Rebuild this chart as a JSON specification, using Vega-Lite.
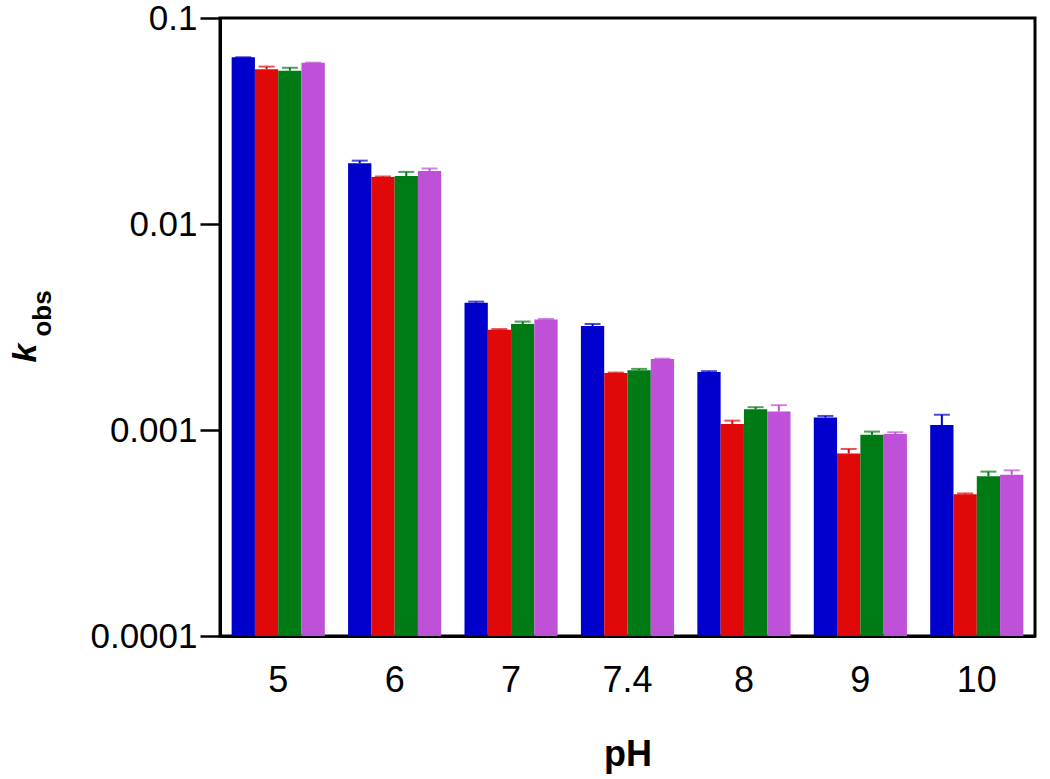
{
  "$schema": "https://vega.github.io/schema/vega-lite/v6.json",
  "width": 815,
  "height": 618,
  "autosize": "none",
  "padding": {"left": 220, "top": 18, "right": 15, "bottom": 143},
  "background": "white",
  "config": {
    "view": {"stroke": "black", "strokeWidth": 3},
    "font": "Liberation Sans"
  },
  "title": {
    "text": "k",
    "orient": "left",
    "anchor": "middle",
    "fontSize": 34,
    "fontWeight": "bold",
    "fontStyle": "italic",
    "color": "black",
    "offset": -14,
    "dx": -26
  },
  "data": {
    "values": [
      {"pH": "5", "s": "A", "k": 0.0644, "hi": 0.0644},
      {"pH": "5", "s": "B", "k": 0.0564, "hi": 0.0581},
      {"pH": "5", "s": "C", "k": 0.0555, "hi": 0.0574},
      {"pH": "5", "s": "D", "k": 0.0607, "hi": 0.0607},
      {"pH": "6", "s": "A", "k": 0.0197, "hi": 0.0203},
      {"pH": "6", "s": "B", "k": 0.0169, "hi": 0.0170},
      {"pH": "6", "s": "C", "k": 0.0171, "hi": 0.0179},
      {"pH": "6", "s": "D", "k": 0.0181, "hi": 0.0186},
      {"pH": "7", "s": "A", "k": 0.00415, "hi": 0.0042},
      {"pH": "7", "s": "B", "k": 0.00307, "hi": 0.00309},
      {"pH": "7", "s": "C", "k": 0.00327, "hi": 0.00336},
      {"pH": "7", "s": "D", "k": 0.00344, "hi": 0.00346},
      {"pH": "7.4", "s": "A", "k": 0.0032, "hi": 0.00327},
      {"pH": "7.4", "s": "B", "k": 0.00189, "hi": 0.0019},
      {"pH": "7.4", "s": "C", "k": 0.00195, "hi": 0.00198},
      {"pH": "7.4", "s": "D", "k": 0.00221, "hi": 0.00222},
      {"pH": "8", "s": "A", "k": 0.00191, "hi": 0.00193},
      {"pH": "8", "s": "B", "k": 0.00107, "hi": 0.00111},
      {"pH": "8", "s": "C", "k": 0.00126, "hi": 0.00129},
      {"pH": "8", "s": "D", "k": 0.00123, "hi": 0.00132},
      {"pH": "9", "s": "A", "k": 0.00115, "hi": 0.00117},
      {"pH": "9", "s": "B", "k": 0.000768, "hi": 0.000809},
      {"pH": "9", "s": "C", "k": 0.000949, "hi": 0.000982},
      {"pH": "9", "s": "D", "k": 0.000957, "hi": 0.000975},
      {"pH": "10", "s": "A", "k": 0.001057, "hi": 0.001186},
      {"pH": "10", "s": "B", "k": 0.000488, "hi": 0.000492},
      {"pH": "10", "s": "C", "k": 0.000596, "hi": 0.000628},
      {"pH": "10", "s": "D", "k": 0.000607, "hi": 0.000637}
    ]
  },
  "encoding": {
    "x": {
      "field": "pH",
      "type": "nominal",
      "sort": ["5", "6", "7", "7.4", "8", "9", "10"],
      "scale": {"paddingInner": 0.2, "paddingOuter": 0.1},
      "axis": {
        "title": "pH",
        "labelAngle": 0,
        "ticks": false,
        "domainColor": "black",
        "domainWidth": 3,
        "labelFontSize": 36,
        "labelColor": "black",
        "labelPadding": 27,
        "titleFontSize": 36,
        "titleFontWeight": "bold",
        "titleColor": "black",
        "titlePadding": 39
      }
    },
    "xOffset": {"field": "s", "type": "nominal", "sort": ["A", "B", "C", "D"]},
    "color": {
      "field": "s",
      "type": "nominal",
      "legend": null,
      "scale": {"domain": ["A", "B", "C", "D"], "range": ["#0000CC", "#E00808", "#007A14", "#BF50D8"]}
    }
  },
  "layer": [
    {
      "mark": {"type": "bar"},
      "encoding": {
        "y": {
          "field": "k",
          "type": "quantitative",
          "scale": {"type": "log", "domain": [0.0001, 0.1], "nice": false},
          "axis": {
            "values": [0.0001, 0.001, 0.01, 0.1],
            "format": "~g",
            "grid": false,
            "title": "obs",
            "titleFontSize": 26,
            "titleFontWeight": "bold",
            "titleColor": "black",
            "titleX": -165,
            "titleY": 295,
            "titleAngle": -90,
            "titleBaseline": "bottom",
            "labelFontSize": 35,
            "labelColor": "black",
            "labelPadding": 3,
            "tickSize": 20,
            "tickWidth": 2.5,
            "tickColor": "black",
            "domainColor": "black",
            "domainWidth": 3
          }
        },
        "y2": {"datum": 0.0001}
      }
    },
    {
      "mark": {"type": "rule", "strokeWidth": 2},
      "encoding": {
        "y": {"field": "k", "type": "quantitative"},
        "y2": {"field": "hi"}
      }
    },
    {
      "mark": {"type": "tick", "thickness": 2, "size": 16},
      "encoding": {
        "y": {"field": "hi", "type": "quantitative"}
      }
    }
  ]
}
